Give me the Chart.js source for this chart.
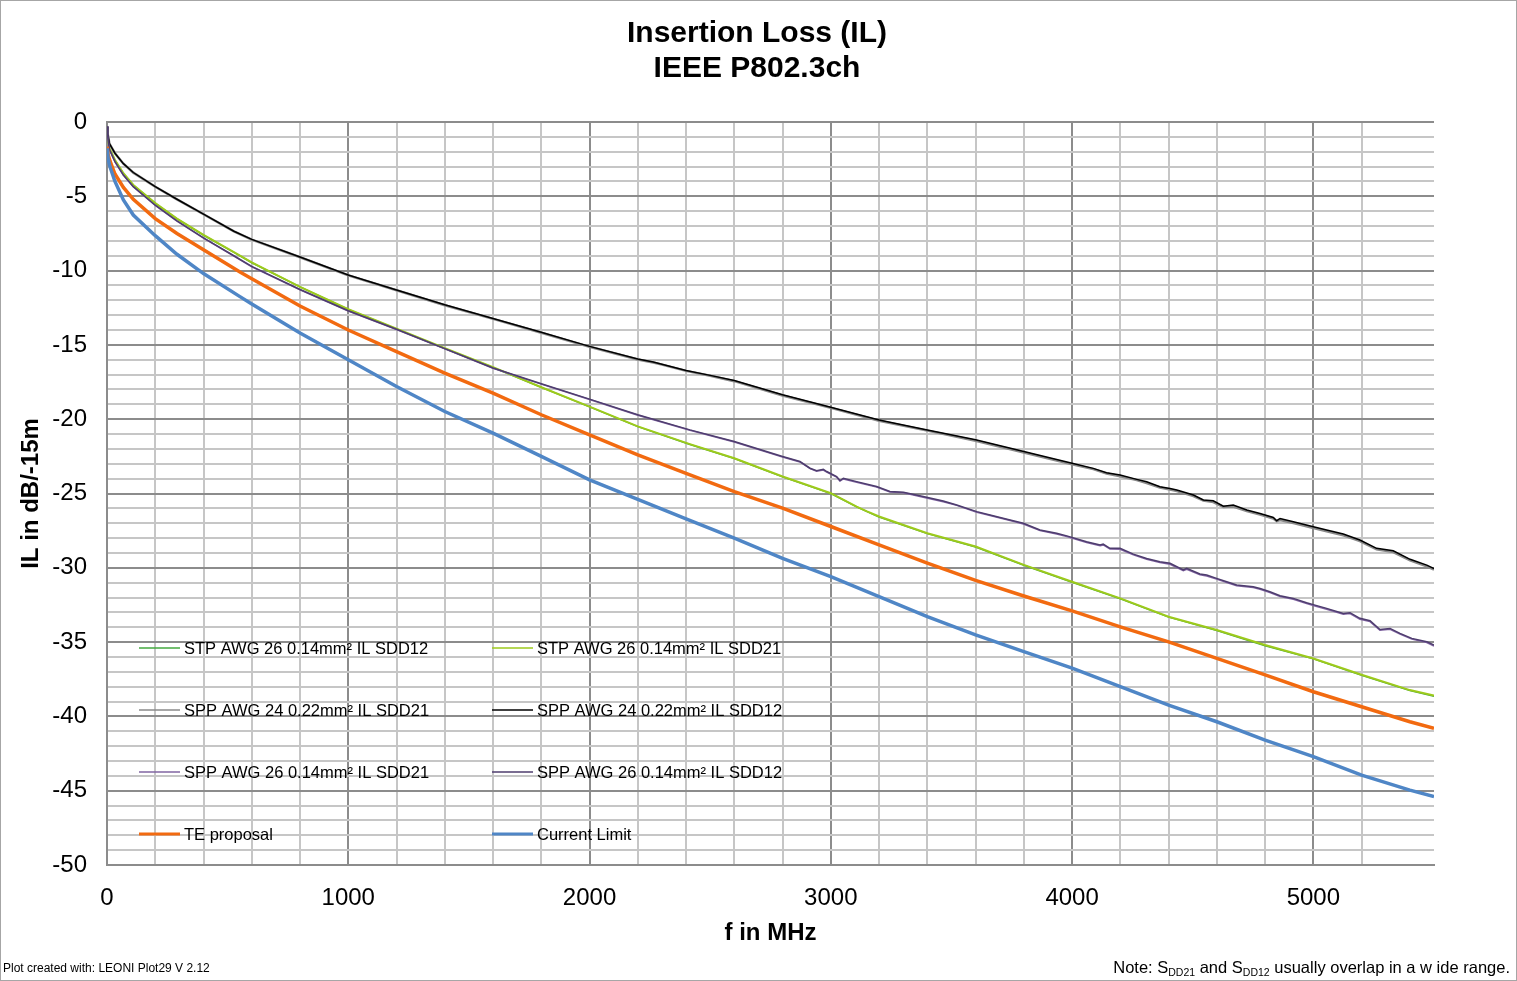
<!DOCTYPE html>
<html>
<head>
<meta charset="utf-8">
<title>Insertion Loss (IL)</title>
<script src="https://cdn.jsdelivr.net/npm/chart.js@4.4.1/dist/chart.umd.min.js"></script>
<style>
  html, body { margin: 0; padding: 0; background: #fff; }
  #wrap { position: relative; width: 1517px; height: 981px; overflow: hidden; }
  #frame { position: absolute; left: 0; top: 0; width: 1515px; height: 979px; border: 1px solid #a6a6a6; pointer-events: none; }
  .foot { position: absolute; font-family: "Liberation Sans", Arial, sans-serif; color: #000; white-space: nowrap; }
  #credit { left: 3px; top: 961px; font-size: 12px; }
  #note { right: 7px; top: 958px; font-size: 16.5px; }
  #note sub { font-size: 10.5px; vertical-align: -3px; line-height: 0; }
</style>
</head>
<body>
<div id="wrap">
  <canvas id="ilChart" width="1517" height="981"></canvas>
  <div class="foot" id="credit">Plot created with: LEONI Plot29 V 2.12</div>
  <div class="foot" id="note">Note: S<sub>DD21</sub> and S<sub>DD12</sub> usually overlap in a w ide range.</div>
  <div id="frame"></div>
</div>
<script>
// Chart title lines
const titleLines = ['Insertion Loss (IL)', 'IEEE P802.3ch'];

// Series names, in legend order (two columns)
const seriesLabels = [
    'STP AWG 26 0.14mm² IL SDD12',
    'STP AWG 26 0.14mm² IL SDD21',
    'SPP AWG 24 0.22mm² IL SDD21',
    'SPP AWG 24 0.22mm² IL SDD12',
    'SPP AWG 26 0.14mm² IL SDD21',
    'SPP AWG 26 0.14mm² IL SDD12',
    'TE proposal',
    'Current Limit'
];

// Axis tick labels
const xTickLabels = [0, 1000, 2000, 3000, 4000, 5000];
const yTickLabels = [0, -5, -10, -15, -20, -25, -30, -35, -40, -45, -50];

// STP AWG 26 (frequency in MHz, IL in dB)
const freqStp = [1, 3, 10, 33, 68, 109, 200, 290, 400, 526,
    600, 800, 1000, 1200, 1400, 1600, 1800, 2000, 2200, 2416,
    2600, 2800, 2950, 3000, 3107, 3150, 3200, 3400, 3600, 3800,
    4000, 4200, 4400, 4600, 4800, 5000, 5200, 5400, 5500];
const ilStpSdd12 = [-0.4, -1.0, -1.78, -2.57, -3.46, -4.25, -5.47, -6.52, -7.62, -8.77,
    -9.47, -11.1, -12.62, -13.92, -15.24, -16.52, -17.86, -19.17, -20.5, -21.7,
    -22.65, -23.88, -24.72, -25.0, -25.9, -26.22, -26.58, -27.7, -28.6, -29.83,
    -30.97, -32.08, -33.32, -34.22, -35.24, -36.13, -37.24, -38.26, -38.64];
const ilStpSdd21 = [-0.4, -1.0, -1.77, -2.56, -3.45, -4.24, -5.45, -6.5, -7.6, -8.75,
    -9.45, -11.09, -12.6, -13.9, -15.22, -16.5, -17.85, -19.15, -20.48, -21.68,
    -22.63, -23.86, -24.7, -24.98, -25.88, -26.2, -26.55, -27.67, -28.57, -29.8,
    -30.94, -32.06, -33.29, -34.19, -35.2, -36.1, -37.2, -38.23, -38.6];

// SPP AWG 24
const freqSpp24 = [1, 3, 10, 33, 68, 109, 200, 290, 400, 526,
    600, 800, 1000, 1200, 1400, 1600, 1800, 2000, 2200, 2264,
    2300, 2400, 2500, 2600, 2800, 3000, 3200, 3400, 3600, 3800, 4000,
    4088, 4143, 4199, 4268, 4309, 4364, 4406, 4434, 4503, 4544,
    4585, 4627, 4668, 4724, 4779, 4834, 4848, 4862, 4917, 5000,
    5055, 5124, 5193, 5262, 5331, 5401, 5470, 5500];
const ilSpp24Sdd21 = [-0.3, -0.8, -1.46, -2.11, -2.81, -3.41, -4.36, -5.21, -6.21, -7.36,
    -7.92, -9.1, -10.32, -11.32, -12.33, -13.25, -14.18, -15.13, -15.98, -16.18,
    -16.33, -16.75, -17.08, -17.44, -18.4, -19.24, -20.1, -20.77, -21.45, -22.24, -23.04,
    -23.36, -23.66, -23.84, -24.1, -24.3, -24.6, -24.74, -24.84, -25.18, -25.48,
    -25.58, -25.9, -25.88, -26.18, -26.42, -26.68, -26.86, -26.78, -26.98, -27.32,
    -27.54, -27.82, -28.2, -28.76, -28.94, -29.5, -29.9, -30.13];
const ilSpp24Sdd12 = [-0.3, -0.8, -1.45, -2.1, -2.8, -3.4, -4.35, -5.2, -6.2, -7.35,
    -7.9, -9.08, -10.3, -11.3, -12.3, -13.22, -14.15, -15.1, -15.95, -16.15,
    -16.3, -16.72, -17.05, -17.4, -18.36, -19.19, -20.05, -20.72, -21.39, -22.18, -22.97,
    -23.31, -23.6, -23.76, -24.05, -24.21, -24.54, -24.66, -24.77, -25.1, -25.44,
    -25.49, -25.85, -25.78, -26.11, -26.34, -26.61, -26.83, -26.68, -26.9, -27.24,
    -27.46, -27.73, -28.13, -28.69, -28.85, -29.43, -29.82, -30.05];

// SPP AWG 26
const freqSpp26 = [1, 3, 10, 33, 68, 109, 200, 290, 400, 526,
    600, 800, 1000, 1200, 1400, 1600, 1800, 2000, 2200, 2416,
    2600, 2800, 2872, 2914, 2941, 2969, 2983, 3024, 3038, 3052,
    3107, 3190, 3245, 3301, 3383, 3466, 3522, 3605, 3660, 3743,
    3798, 3867, 3936, 3978, 4060, 4116, 4129, 4157, 4199, 4254,
    4309, 4364, 4406, 4461, 4475, 4530, 4558, 4599, 4641, 4682,
    4751, 4779, 4820, 4862, 4917, 4972, 5007, 5055, 5124, 5152,
    5193, 5235, 5276, 5318, 5359, 5408, 5470, 5500];
const ilSpp26Sdd21 = [-0.3, -0.9, -1.86, -2.68, -3.58, -4.36, -5.62, -6.67, -7.82, -9.02,
    -9.75, -11.29, -12.72, -13.97, -15.27, -16.57, -17.64, -18.68, -19.73, -20.75,
    -21.53, -22.55, -22.88, -23.33, -23.5, -23.42, -23.56, -23.9, -24.16, -24.02,
    -24.24, -24.57, -24.9, -24.95, -25.25, -25.56, -25.8, -26.26, -26.48, -26.82,
    -27.05, -27.49, -27.72, -27.9, -28.3, -28.52, -28.46, -28.74, -28.75, -29.13,
    -29.42, -29.64, -29.76, -30.2, -30.1, -30.47, -30.55, -30.76, -31.0, -31.21,
    -31.33, -31.45, -31.67, -31.93, -32.12, -32.4, -32.57, -32.79, -33.12, -33.08,
    -33.46, -33.62, -34.2, -34.14, -34.46, -34.8, -35.03, -35.26];
const ilSpp26Sdd12 = [-0.3, -0.9, -1.85, -2.67, -3.57, -4.35, -5.6, -6.65, -7.8, -9.0,
    -9.72, -11.27, -12.7, -13.95, -15.25, -16.55, -17.62, -18.65, -19.7, -20.72,
    -21.5, -22.51, -22.85, -23.3, -23.46, -23.37, -23.52, -23.86, -24.13, -23.97,
    -24.2, -24.53, -24.87, -24.92, -25.2, -25.5, -25.77, -26.22, -26.44, -26.78,
    -27.0, -27.45, -27.67, -27.85, -28.25, -28.47, -28.4, -28.69, -28.69, -29.08,
    -29.37, -29.59, -29.7, -30.15, -30.04, -30.42, -30.49, -30.71, -30.94, -31.16,
    -31.27, -31.39, -31.61, -31.88, -32.06, -32.35, -32.51, -32.73, -33.07, -33.02,
    -33.4, -33.56, -34.15, -34.08, -34.41, -34.75, -34.97, -35.2];

// TE proposal and current limit
const freqLimit = [1, 5, 12, 33, 68, 109, 200, 290, 400, 551,
    600, 800, 1000, 1200, 1400, 1600, 1800, 2000, 2200, 2400,
    2600, 2800, 3000, 3200, 3400, 3600, 3800, 4000, 4200, 4400,
    4600, 4800, 5000, 5200, 5400, 5500];
const ilTeProposal = [-1.66, -2.2, -2.6, -3.5, -4.4, -5.2, -6.5, -7.5, -8.6, -10.1,
    -10.55, -12.38, -14.0, -15.45, -16.9, -18.25, -19.7, -21.05, -22.4, -23.65,
    -24.87, -25.99, -27.22, -28.46, -29.69, -30.85, -31.9, -32.9, -33.97, -34.98,
    -36.1, -37.2, -38.34, -39.35, -40.36, -40.8];
const ilCurrentLimit = [-1.77, -2.5, -3.0, -4.0, -5.25, -6.26, -7.65, -8.9, -10.2, -11.75,
    -12.25, -14.2, -16.0, -17.8, -19.48, -20.94, -22.5, -24.08, -25.4, -26.7,
    -28.0, -29.36, -30.59, -31.94, -33.28, -34.52, -35.64, -36.75, -38.0, -39.24,
    -40.36, -41.6, -42.71, -43.95, -44.96, -45.4];

const FONT = '"Liberation Sans", Arial, sans-serif';
const GRID_MINOR = '#c6c6c6';
const GRID_MAJOR = '#8c8c8c';

Chart.defaults.font.family = FONT;
Chart.defaults.color = '#000';

function toPoints(xs, ys) {
    return xs.map((x, i) => ({ x: x, y: ys[i] }));
}

// one entry per dataset: data + style
const seriesDefs = [
    { x: freqStp,   y: ilStpSdd12,     color: '#43a83f', width: 1.5 },
    { x: freqStp,   y: ilStpSdd21,     color: '#9dca1c', width: 2 },
    { x: freqSpp24, y: ilSpp24Sdd21,   color: '#8a8a8a', width: 2.5 },
    { x: freqSpp24, y: ilSpp24Sdd12,   color: '#000000', width: 1.5 },
    { x: freqSpp26, y: ilSpp26Sdd21,   color: '#8064a2', width: 1.5 },
    { x: freqSpp26, y: ilSpp26Sdd12,   color: '#4e3d6e', width: 1.5 },
    { x: freqLimit, y: ilTeProposal,   color: '#f26a10', width: 3.5 },
    { x: freqLimit, y: ilCurrentLimit, color: '#4f86c6', width: 3.5 }
];

const datasets = seriesDefs.map((s, i) => ({
    label: seriesLabels[i],
    data: toPoints(s.x, s.y),
    borderColor: s.color,
    backgroundColor: s.color,
    borderWidth: s.width,
    pointRadius: 0,
    tension: 0,
    fill: false,
    order: -i   // later series drawn on top, as in the original plot
}));

// Title centred on the whole picture, not on the plot area
const pageTitle = {
    id: 'pageTitle',
    afterDraw(chart) {
        const ctx = chart.ctx;
        ctx.save();
        ctx.font = 'bold 30px ' + FONT;
        ctx.fillStyle = '#000';
        ctx.textAlign = 'center';
        ctx.textBaseline = 'middle';
        titleLines.forEach((line, i) => ctx.fillText(line, 757, 34 + i * 35));
        ctx.restore();
    }
};

// Legend inside the plot: two columns, four rows
const gridLegend = {
    id: 'gridLegend',
    afterDraw(chart) {
        const ctx = chart.ctx;
        ctx.save();
        ctx.font = '16.5px ' + FONT;
        ctx.textBaseline = 'middle';
        chart.data.datasets.forEach((ds, i) => {
            const col = i % 2;
            const row = Math.floor(i / 2);
            const x = 139 + col * 353;
            const y = 648 + row * 62;
            ctx.strokeStyle = ds.borderColor;
            ctx.lineWidth = ds.borderWidth > 3 ? 3 : 1.5;
            ctx.beginPath();
            ctx.moveTo(x, y);
            ctx.lineTo(x + 41, y);
            ctx.stroke();
            ctx.fillStyle = '#000';
            ctx.fillText(ds.label, x + 45, y + 1);
        });
        ctx.restore();
    }
};

const ctx = document.getElementById('ilChart').getContext('2d');
new Chart(ctx, {
    type: 'line',
    data: { datasets: datasets },
    options: {
        responsive: false,
        animation: false,
        devicePixelRatio: 1,
        layout: { padding: { left: 0, right: 83, top: 122, bottom: 26 } },
        plugins: {
            legend: { display: false },
            tooltip: { enabled: false },
            title: { display: false }
        },
        scales: {
            x: {
                type: 'linear',
                min: 0,
                max: 5500,
                ticks: {
                    stepSize: 200,
                    autoSkip: false,
                    maxRotation: 0,
                    padding: 19,
                    font: { size: 24 },
                    callback: v => xTickLabels.includes(v) ? String(v) : ''
                },
                grid: {
                    lineWidth: 2,
                    drawTicks: false,
                    color: c => c.tick.value >= 5500 ? 'rgba(0,0,0,0)'
                        : (c.tick.value % 1000 === 0 ? GRID_MAJOR : GRID_MINOR)
                },
                border: { display: true, color: GRID_MAJOR, width: 2 },
                title: {
                    display: true,
                    text: 'f in MHz',
                    font: { size: 24, weight: 'bold' },
                    padding: { top: 0, bottom: 7 }
                },
                afterFit: scale => { scale.height = 90; }
            },
            y: {
                type: 'linear',
                min: -50,
                max: 0,
                ticks: {
                    stepSize: 1,
                    autoSkip: false,
                    padding: 20,
                    font: { size: 24 },
                    callback: v => yTickLabels.includes(v) ? String(v) : ''
                },
                grid: {
                    lineWidth: 2,
                    drawTicks: false,
                    color: c => c.tick.value % 5 === 0 ? GRID_MAJOR : GRID_MINOR
                },
                border: { display: true, color: GRID_MAJOR, width: 2 },
                title: {
                    display: true,
                    text: 'IL in dB/-15m',
                    font: { size: 24, weight: 'bold' },
                    padding: { top: 17, bottom: 0 }
                },
                afterFit: scale => { scale.width = 107; }
            }
        }
    },
    plugins: [gridLegend, pageTitle]
});
</script>
</body>
</html>
